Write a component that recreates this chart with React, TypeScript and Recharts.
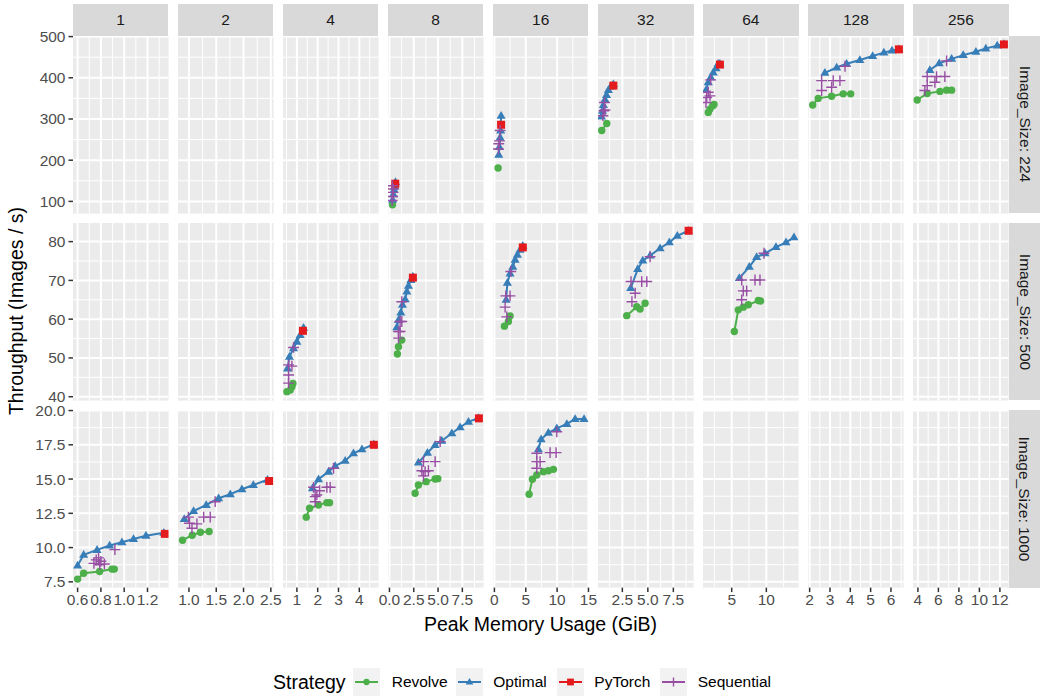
import React from "react";
import { ComposedChart, Scatter, XAxis, YAxis, CartesianGrid } from "recharts";

type Pt = [number, number];
type ByBatch = Record<number, Pt[]>;

const batchSizes = [1, 2, 4, 8, 16, 32, 64, 128, 256];
const imageSizes = [224, 500, 1000];
const strategies = ["Revolve", "Optimal", "PyTorch", "Sequential"];
const colors = ["#4DAF4A", "#377EB8", "#E41A1C", "#984EA3"];

// free x scale per batch-size column
const xDomains: [number, number][] = [
  [0.5605, 1.381],
  [0.7995, 2.5504],
  [0.332, 4.928],
  [-0.149, 9.686],
  [-0.223, 15.02],
  [0.113, 9.486],
  [0.859, 14.654],
  [1.919, 6.621],
  [3.522, 12.849],
];
const xTicks = [
  [0.6, 0.8, 1.0, 1.2],
  [1.0, 1.5, 2.0, 2.5],
  [1, 2, 3, 4],
  [0, 2.5, 5, 7.5],
  [0, 5, 10, 15],
  [2.5, 5, 7.5],
  [5, 10],
  [2, 3, 4, 5, 6],
  [4, 6, 8, 10, 12],
];
const xTickLabels = [
  ["0.6", "0.8", "1.0", "1.2"],
  ["1.0", "1.5", "2.0", "2.5"],
  ["1", "2", "3", "4"],
  ["0.0", "2.5", "5.0", "7.5"],
  ["0", "5", "10", "15"],
  ["2.5", "5.0", "7.5"],
  ["5", "10"],
  ["2", "3", "4", "5", "6"],
  ["4", "6", "8", "10", "12"],
];
const xMinor = [
  [0.7, 0.9, 1.1, 1.3],
  [1.25, 1.75, 2.25],
  [0.5, 1.5, 2.5, 3.5, 4.5],
  [1.25, 3.75, 6.25, 8.75],
  [2.5, 7.5, 12.5],
  [1.25, 3.75, 6.25, 8.75],
  [2.5, 7.5, 12.5],
  [2.5, 3.5, 4.5, 5.5, 6.5],
  [5, 7, 9, 11],
];

// free y scale per image-size row
const yDomains: [number, number][] = [
  [70.4, 501.4],
  [39.0, 84.8],
  [7.08, 20.04],
];
const yTicks = [
  [100, 200, 300, 400, 500],
  [40, 50, 60, 70, 80],
  [7.5, 10, 12.5, 15, 17.5, 20],
];
const yTickLabels = [
  ["100", "200", "300", "400", "500"],
  ["40", "50", "60", "70", "80"],
  ["7.5", "10.0", "12.5", "15.0", "17.5", "20.0"],
];
const yMinor = [
  [150, 250, 350, 450],
  [45, 55, 65, 75],
  [8.75, 11.25, 13.75, 16.25, 18.75],
];

// Image_Size 224
const revolve224: ByBatch = {
  8: [[0.31, 92]],
  16: [[0.59, 181]],
  32: [[0.48, 272], [0.97, 289]],
  64: [[1.62, 316], [1.87, 324], [2.26, 332], [2.45, 335]],
  128: [[2.15, 334], [2.42, 350], [3.08, 355], [3.65, 361], [4.02, 361]],
  256: [[3.93, 346], [4.91, 362], [6.15, 367], [6.8, 370], [7.29, 370]],
};
const optimal224: ByBatch = {
  8: [[0.33, 104], [0.4, 117], [0.48, 128], [0.55, 137], [0.62, 147]],
  16: [[0.7, 213], [0.8, 232], [0.91, 255], [1.0, 272], [1.07, 308]],
  32: [[0.45, 306], [0.55, 320], [0.64, 334], [0.8, 347], [0.95, 358], [1.13, 370], [1.36, 379], [1.62, 384]],
  64: [[1.29, 370], [1.62, 389], [1.97, 401], [2.34, 413], [2.73, 423], [3.05, 434], [3.3, 434]],
  128: [[2.75, 412], [3.33, 425], [3.82, 434], [4.47, 443], [5.1, 453], [5.65, 461], [6.05, 466], [6.39, 469]],
  256: [[5.17, 419], [6.08, 435], [7.29, 446], [8.42, 455], [9.66, 463], [10.63, 471], [11.74, 478], [12.39, 482]],
};
const pytorch224: ByBatch = {
  8: [[0.6, 143]],
  16: [[1.07, 286]],
  32: [[1.62, 381]],
  64: [[3.3, 432]],
  128: [[6.39, 469]],
  256: [[12.39, 481]],
};
const sequential224: ByBatch = {
  8: [[0.28, 102], [0.31, 138], [0.33, 112], [0.35, 122], [0.4, 130]],
  16: [[0.64, 227], [0.7, 240], [0.8, 247], [0.91, 272]],
  32: [[0.6, 308], [0.7, 320], [0.75, 340], [0.8, 322]],
  64: [[1.29, 340], [1.39, 352], [1.62, 365], [1.87, 356], [1.97, 395]],
  128: [[2.59, 369], [2.59, 393], [3.08, 377], [3.16, 393], [3.49, 393], [3.74, 428]],
  256: [[4.68, 369], [4.91, 381], [4.91, 403], [5.66, 389], [5.82, 403], [6.63, 403], [6.8, 441]],
};

// Image_Size 500
const revolve500: ByBatch = {
  4: [[0.52, 41.3], [0.68, 41.7], [0.76, 42.6], [0.81, 43.4]],
  8: [[0.82, 51.0], [0.93, 52.9], [1.27, 54.6]],
  16: [[1.6, 58.2], [2.23, 59.4], [2.5, 60.8]],
  32: [[2.93, 60.9], [3.91, 63.2], [4.24, 62.6], [4.73, 64.1]],
  64: [[5.38, 56.8], [5.95, 62.4], [6.67, 63.1], [7.4, 63.7], [8.84, 64.8], [9.18, 64.7]],
};
const optimal500: ByBatch = {
  4: [[0.55, 47.3], [0.64, 50.3], [0.84, 52.5], [1.0, 54.2], [1.16, 55.9], [1.32, 57.8]],
  8: [[0.76, 57.9], [0.93, 59.8], [1.17, 61.7], [1.34, 63.7], [1.62, 65.1], [1.79, 67.1], [1.96, 68.6], [2.2, 70.1], [2.41, 71.0]],
  16: [[1.87, 65.0], [2.07, 69.4], [2.5, 71.8], [2.93, 73.5], [3.3, 75.3], [3.67, 76.6], [4.1, 77.9], [4.53, 78.9]],
  32: [[3.32, 68.0], [4.01, 72.9], [4.5, 75.1], [5.22, 76.4], [6.2, 78.3], [7.11, 79.8], [7.89, 81.5], [8.97, 82.8]],
  64: [[6.1, 70.6], [7.54, 73.5], [8.6, 76.0], [9.81, 77.0], [11.39, 78.6], [12.84, 79.8], [13.99, 81.1]],
};
const pytorch500: ByBatch = {
  4: [[1.29, 57.0]],
  8: [[2.41, 70.7]],
  16: [[4.53, 78.5]],
  32: [[9.0, 82.8]],
};
const sequential500: ByBatch = {
  4: [[0.6, 43.5], [0.6, 45.6], [0.6, 48.2], [0.76, 47.9], [0.84, 52.7]],
  8: [[0.93, 55.1], [0.93, 56.8], [1.1, 56.8], [1.1, 59.4], [1.27, 59.4], [1.27, 64.5]],
  16: [[1.71, 63.1], [1.82, 66.0], [1.98, 60.6], [2.5, 66.0], [2.62, 72.3]],
  32: [[3.35, 69.7], [3.44, 64.5], [3.76, 66.7], [4.4, 69.7], [4.9, 69.7], [5.22, 76.1]],
  64: [[6.44, 65.0], [6.44, 70.1], [6.67, 67.3], [7.16, 67.3], [8.36, 70.1], [9.08, 70.1], [9.66, 77.0]],
};

// Image_Size 1000
const revolve1000: ByBatch = {
  1: [[0.6, 7.7], [0.652, 8.13], [0.789, 8.25], [0.895, 8.43], [0.915, 8.43]],
  2: [[0.883, 10.54], [1.06, 10.9], [1.21, 11.12], [1.37, 11.17]],
  4: [[1.45, 12.22], [1.61, 12.87], [2.04, 13.11], [2.44, 13.28], [2.57, 13.28]],
  8: [[2.64, 13.96], [2.98, 14.57], [3.78, 14.81], [4.7, 15.01], [4.98, 15.03]],
  16: [[5.53, 13.89], [6.06, 14.99], [6.76, 15.3], [7.81, 15.54], [8.61, 15.61], [9.41, 15.71]],
};
const optimal1000: ByBatch = {
  1: [[0.6, 8.69], [0.652, 9.47], [0.767, 9.83], [0.875, 10.15], [0.981, 10.39], [1.08, 10.63], [1.187, 10.87], [1.34, 11.08]],
  2: [[0.914, 12.09], [1.085, 12.67], [1.317, 13.11], [1.543, 13.6], [1.757, 13.89], [1.97, 14.26], [2.18, 14.57], [2.44, 14.95]],
  4: [[1.75, 14.33], [2.04, 14.99], [2.52, 15.54], [2.84, 15.95], [3.32, 16.34], [3.72, 16.88], [4.13, 17.17], [4.7, 17.54]],
  8: [[2.98, 16.2], [3.91, 16.92], [4.7, 17.49], [5.39, 17.8], [6.42, 18.34], [7.27, 18.78], [8.13, 19.18], [9.16, 19.46]],
  16: [[7.02, 17.17], [7.45, 17.9], [8.61, 18.38], [9.95, 18.7], [11.55, 19.02], [12.87, 19.38], [14.3, 19.38]],
};
const pytorch1000: ByBatch = {
  1: [[1.349, 11.0]],
  2: [[2.469, 14.86]],
  4: [[4.7, 17.5]],
  8: [[9.2, 19.43]],
};
const sequential1000: ByBatch = {
  1: [[0.74, 8.85], [0.76, 9.1], [0.78, 9.25], [0.79, 8.75], [0.8, 9.0], [0.83, 8.8], [0.92, 9.85]],
  2: [[0.99, 12.22], [1.01, 11.78], [1.055, 11.41], [1.146, 11.73], [1.27, 12.22], [1.39, 12.22], [1.48, 13.35]],
  4: [[1.8, 14.4], [1.88, 13.35], [1.88, 13.72], [1.96, 13.84], [2.09, 14.15], [2.44, 14.4], [2.6, 14.4], [2.76, 15.79]],
  8: [[3.33, 15.61], [3.5, 15.23], [3.5, 16.27], [3.67, 15.54], [4.01, 15.61], [4.7, 16.27], [5.22, 17.73]],
  16: [[6.76, 15.79], [6.76, 16.27], [6.76, 16.88], [7.29, 16.27], [8.88, 16.93], [9.84, 16.93], [9.95, 18.45]],
};

const seriesByRow: ByBatch[][] = [
  [revolve224, optimal224, pytorch224, sequential224],
  [revolve500, optimal500, pytorch500, sequential500],
  [revolve1000, optimal1000, pytorch1000, sequential1000],
];

// facet geometry
const PANEL_X0 = 72.7;
const PANEL_DX = 105.05;
const PANEL_W = 95.6;
const PANEL_Y0 = 35.7;
const PANEL_DY = 187.2;
const PANEL_H = 177.6;
const Y_AXIS_W = 60;
const X_AXIS_H = 28;
const PAD = 14; // room for tick labels that spill past a panel edge
const FONT = "'Liberation Sans', Arial, Helvetica, sans-serif";

const panelLeft = (c: number) => PANEL_X0 + c * PANEL_DX;
const panelTop = (r: number) => PANEL_Y0 + r * PANEL_DY;

// legend layout (left edges of keys and labels)
const legendKeyX = [353.3, 455.7, 557, 660];
const legendLabelX = [391.7, 493.3, 594.3, 697.7];

function Marker({ kind, cx, cy, size = 1 }: { kind: number; cx: number; cy: number; size?: number }) {
  const color = colors[kind];
  if (cx == null || cy == null) return null;
  if (kind === 0) return <circle cx={cx} cy={cy} r={3.7 * size} fill={color} />;
  if (kind === 1) {
    const s = 4.8 * size;
    return (
      <path
        d={`M${cx},${cy - s} L${cx + s * 0.95},${cy + s * 0.62} L${cx - s * 0.95},${cy + s * 0.62} Z`}
        fill={color}
      />
    );
  }
  if (kind === 2) {
    const h = 4 * size;
    return <rect x={cx - h} y={cy - h} width={2 * h} height={2 * h} fill={color} />;
  }
  const a = 5.4 * size;
  return (
    <path
      d={`M${cx - a},${cy} H${cx + a} M${cx},${cy - a} V${cy + a}`}
      stroke={color}
      strokeWidth={1.4}
      fill="none"
    />
  );
}

function Panel({ row, col }: { row: number; col: number }) {
  const showY = col === 0;
  const showX = row === 2;
  const w = PANEL_W + 2 * PAD + (showY ? Y_AXIS_W : 0);
  const h = PANEL_H + 2 * PAD + (showX ? X_AXIS_H : 0);
  const [x0, x1] = xDomains[col];
  const [y0, y1] = yDomains[row];
  const minorX = xMinor[col].filter((v) => v > x0 && v < x1);
  const minorY = yMinor[row].filter((v) => v > y0 && v < y1);
  const batch = batchSizes[col];
  const tickStyle = { fill: "#4D4D4D", fontSize: 15.5, fontFamily: FONT };

  return (
    <div
      style={{
        position: "absolute",
        left: panelLeft(col) - PAD - (showY ? Y_AXIS_W : 0),
        top: panelTop(row) - PAD,
        width: w,
        height: h,
      }}
    >
      <ComposedChart width={w} height={h} margin={{ top: PAD, right: PAD, bottom: PAD, left: PAD }}>
        <CartesianGrid
          fill="#EBEBEB"
          stroke="#FFFFFF"
          strokeWidth={1}
          horizontalValues={minorY}
          verticalValues={minorX}
          syncWithTicks
        />
        <CartesianGrid
          stroke="#FFFFFF"
          strokeWidth={2}
          horizontalValues={yTicks[row]}
          verticalValues={xTicks[col]}
          syncWithTicks
        />
        <XAxis
          type="number"
          dataKey="x"
          domain={xDomains[col]}
          allowDataOverflow
          ticks={xTicks[col]}
          interval={0}
          hide={!showX}
          height={X_AXIS_H}
          axisLine={false}
          tickLine={{ stroke: "#333333", strokeWidth: 1.5 }}
          tickSize={4.5}
          tickMargin={2}
          tick={tickStyle}
          tickFormatter={(v: number) => xTickLabels[col][xTicks[col].indexOf(v)] ?? String(v)}
        />
        <YAxis
          type="number"
          dataKey="y"
          domain={yDomains[row]}
          allowDataOverflow
          ticks={yTicks[row]}
          interval={0}
          hide={!showY}
          width={Y_AXIS_W}
          axisLine={false}
          tickLine={{ stroke: "#333333", strokeWidth: 1.5 }}
          tickSize={4.5}
          tickMargin={3}
          tick={tickStyle}
          tickFormatter={(v: number) => yTickLabels[row][yTicks[row].indexOf(v)] ?? String(v)}
        />
        {seriesByRow[row].map((byBatch, k) => {
          const pts = byBatch[batch];
          if (!pts) return null;
          const data = pts.map(([x, y]) => ({ x, y }));
          const withLine = k === 0 || k === 1;
          return (
            <Scatter
              key={strategies[k]}
              name={strategies[k]}
              data={data}
              fill={colors[k]}
              line={withLine ? { stroke: colors[k], strokeWidth: 2 } : false}
              isAnimationActive={false}
              shape={(p: any) => <Marker kind={k} cx={p.cx} cy={p.cy} />}
            />
          );
        })}
      </ComposedChart>
    </div>
  );
}

function LegendKey({ kind }: { kind: number }) {
  return (
    <svg width={27} height={28} style={{ display: "block" }}>
      <rect x={0} y={0} width={27} height={28} fill="#F2F2F2" />
      <line x1={2} x2={25} y1={14} y2={14} stroke={colors[kind]} strokeWidth={2} />
      <Marker kind={kind} cx={13.5} cy={14} size={0.85} />
    </svg>
  );
}

export default function App() {
  const rows = [0, 1, 2];
  const cols = batchSizes.map((_, i) => i);
  const stripStyle: React.CSSProperties = {
    position: "absolute",
    background: "#D9D9D9",
    color: "#1A1A1A",
    fontSize: 15.5,
    display: "flex",
    alignItems: "center",
    justifyContent: "center",
  };
  const legendText: React.CSSProperties = {
    position: "absolute",
    top: 668,
    height: 28,
    lineHeight: "28px",
    color: "#000",
    whiteSpace: "nowrap",
  };

  return (
    <div
      style={{
        position: "absolute",
        left: 0,
        top: 0,
        width: 1043,
        height: 698,
        background: "#FFFFFF",
        fontFamily: FONT,
        overflow: "hidden",
      }}
    >
      {rows.map((r) => cols.map((c) => <Panel key={`${r}-${c}`} row={r} col={c} />))}

      {cols.map((c) => (
        <div
          key={`strip-${c}`}
          style={{ ...stripStyle, left: panelLeft(c), top: 4, width: PANEL_W, height: PANEL_Y0 - 4 }}
        >
          {batchSizes[c]}
        </div>
      ))}

      {rows.map((r) => (
        <div
          key={`rstrip-${r}`}
          style={{
            ...stripStyle,
            left: panelLeft(8) + PANEL_W + 0.5,
            top: panelTop(r),
            width: 31,
            height: PANEL_H,
          }}
        >
          <span style={{ transform: "rotate(90deg)", whiteSpace: "nowrap" }}>
            Image_Size: {imageSizes[r]}
          </span>
        </div>
      ))}

      <div
        style={{
          position: "absolute",
          left: 16 - 150,
          top: 311,
          width: 300,
          height: 24,
          marginTop: -12,
          textAlign: "center",
          fontSize: 19.5,
          lineHeight: "24px",
          color: "#000",
          transform: "rotate(-90deg)",
          whiteSpace: "nowrap",
        }}
      >
        Throughput (Images / s)
      </div>

      <div
        style={{
          position: "absolute",
          left: 540.5 - 200,
          top: 612,
          width: 400,
          textAlign: "center",
          fontSize: 19.5,
          lineHeight: "24px",
          color: "#000",
          whiteSpace: "nowrap",
        }}
      >
        Peak Memory Usage (GiB)
      </div>

      <div style={{ ...legendText, left: 273, fontSize: 19.5 }}>Strategy</div>
      {strategies.map((s, k) => (
        <React.Fragment key={s}>
          <div style={{ position: "absolute", left: legendKeyX[k], top: 668 }}>
            <LegendKey kind={k} />
          </div>
          <div style={{ ...legendText, left: legendLabelX[k], fontSize: 15.5 }}>{s}</div>
        </React.Fragment>
      ))}
    </div>
  );
}
